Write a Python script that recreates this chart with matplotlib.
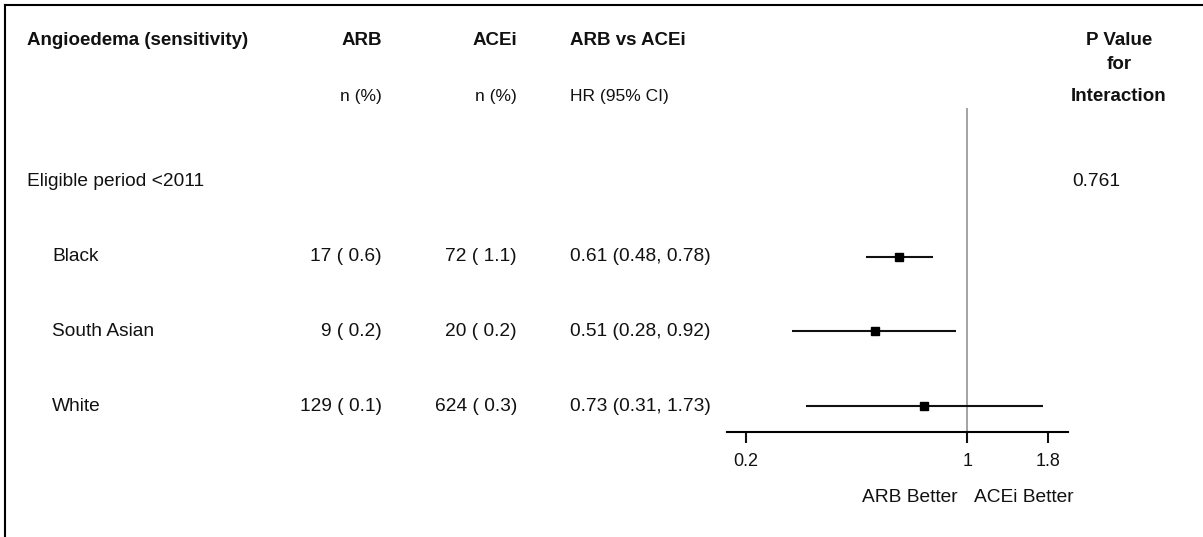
import numpy as np
import matplotlib.pyplot as plt
from matplotlib.lines import Line2D
from matplotlib.transforms import blended_transform_factory

plt.rcParams['font.family'] = ['Liberation Sans', 'DejaVu Sans']

# data
groups = ['Black', 'South Asian', 'White']
arb_n = [17, 9, 129]
arb_pct = [0.6, 0.2, 0.1]
acei_n = [72, 20, 624]
acei_pct = [1.1, 0.2, 0.3]
hr = [0.61, 0.51, 0.73]
hr_lo = [0.48, 0.28, 0.31]
hr_hi = [0.78, 0.92, 1.73]
period_label = 'Eligible period <2011'
p_interaction = '0.761'
xticks = [0.2, 1, 1.8]
xtick_labels = ['0.2', '1', '1.8']

W, H = 1203, 537
fig = plt.figure(figsize=(W / 100, H / 100), dpi=100)

# forest panel, y in row units: 0 = period row, 1..n = groups
ax = fig.add_axes([727 / W, (H - 431.7) / H, 341 / W, 431.7 / H])
ax.set_xscale('log')
ax.set_xlim(0.1746, 2.08)
ax.set_ylim(3.343, -2.436)
rows = np.arange(1, len(groups) + 1)

ax.vlines(1, -0.99, 3.343, color='#8a8a8a', lw=1.1, zorder=1)
ax.hlines(rows, hr_lo, hr_hi, color='#111111', lw=1.5, zorder=2)
ax.plot(hr, rows, 's', color='black', ms=6, zorder=3)

for s in ['top', 'left', 'right']:
    ax.spines[s].set_visible(False)
ax.spines['bottom'].set_linewidth(1.5)
ax.set_yticks([])
ax.set_xticks(xticks)
ax.set_xticklabels(xtick_labels)
ax.minorticks_off()
ax.tick_params(axis='x', length=8, width=1.5, pad=7, labelsize=13, colors='#111111')

# text columns: x in figure pixels, y in row units
tr = blended_transform_factory(fig.transFigure, ax.transData)
def put(x, y, s, ha='left', bold=False, size=13.8):
    ax.text(x / W, y, s, transform=tr, ha=ha, va='center', fontsize=size,
            fontweight='bold' if bold else 'normal', color='#111111')

hdr1, hdr2 = -1.90, -1.14
put(27, hdr1, 'Angioedema (sensitivity)', bold=True, size=13.5)
put(382, hdr1, 'ARB', ha='right', bold=True, size=13.5)
put(517, hdr1, 'ACEi', ha='right', bold=True, size=13.5)
put(570, hdr1, 'ARB vs ACEi', bold=True, size=13.5)
put(1119, hdr1, 'P Value', ha='center', bold=True, size=13.5)
put(1119, -1.566, 'for', ha='center', bold=True, size=13.5)
put(1119, -1.15, 'Interaction', ha='center', bold=True, size=13.5)
put(382, hdr2, 'n (%)', ha='right', size=12.5)
put(517, hdr2, 'n (%)', ha='right', size=12.5)
put(570, hdr2, 'HR (95% CI)', size=12.5)

put(27, 0, period_label)
put(1072, 0, p_interaction)
for i, g in enumerate(groups):
    y = rows[i]
    put(52, y, g)
    put(382, y, f'{arb_n[i]} ({arb_pct[i]:4.1f})', ha='right')
    put(517, y, f'{acei_n[i]} ({acei_pct[i]:4.1f})', ha='right')
    put(570, y, f'{hr[i]:.2f} ({hr_lo[i]:.2f}, {hr_hi[i]:.2f})')

put(958, 4.23, 'ARB Better', ha='right')
put(974, 4.23, 'ACEi Better')

# frame lines at top and left
fig.add_artist(Line2D([4.5 / W, 4.5 / W], [0, (H - 4.5) / H], color='black', lw=1.5))
fig.add_artist(Line2D([4.5 / W, 1], [(H - 4.5) / H, (H - 4.5) / H], color='black', lw=1.5))

fig.savefig('out.png', dpi=100, facecolor='white')
